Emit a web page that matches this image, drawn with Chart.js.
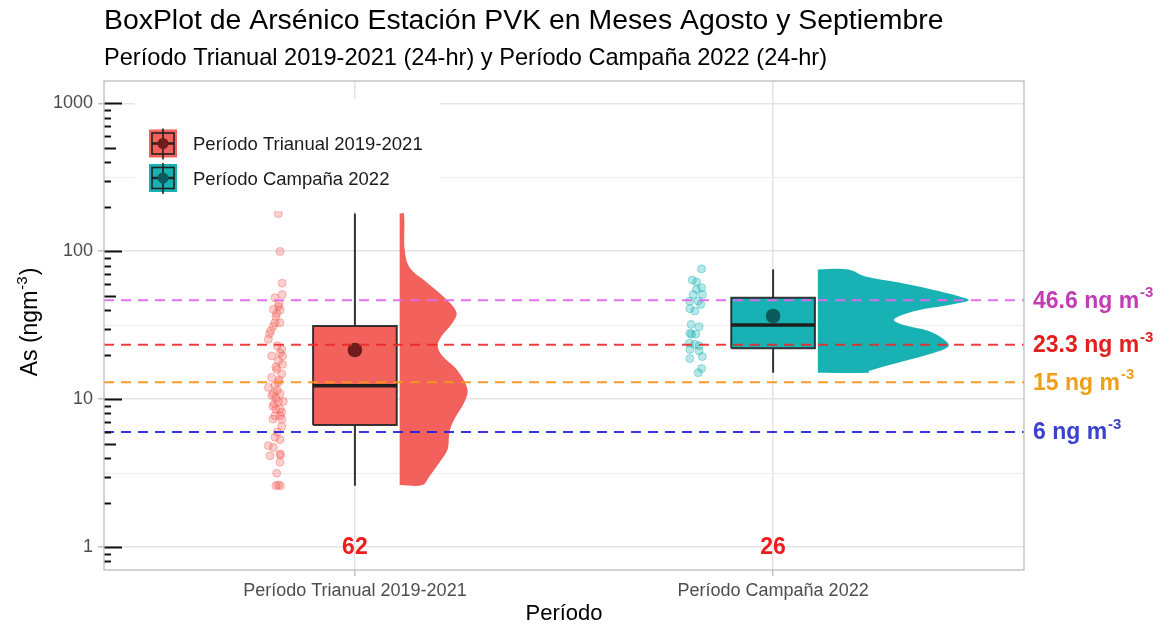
<!DOCTYPE html>
<html>
<head>
<meta charset="utf-8">
<script src="https://cdn.jsdelivr.net/npm/chart.js@4.4.1/dist/chart.umd.min.js"></script>
<style>
  body { margin: 0; background: #fff; }
  canvas { display: block; }
</style>
</head>
<body>
<canvas id="boxChart" width="1169" height="626"></canvas>
<script>
const FONT = "'Liberation Sans', Arial, sans-serif";

// categories and counts
const categories = ["Período Trianual 2019-2021", "Período Campaña 2022"];
const counts = [62, 26];
const countLevel = 1;

// box stats
const whiskerLow = [2.6, 15.1];
const q1 = [6.7, 22.1];
const median = [12.3, 31.7];
const q3 = [31.2, 48.5];
const whiskerHigh = [179.6, 75.3];
const means = [21.5, 36.5];

// raw points
const trianualValues = [179.6, 99.6, 60.8, 51, 48.5, 44, 42.2, 40.5, 40, 38, 36, 32.9, 32.9, 31.2, 29, 27.7,
  25.4, 23, 21.7, 20.5, 19.6, 19.6, 18.2, 17.2, 16.5, 15.9, 14.8, 14.0, 13.5, 13.0, 12.4, 12.0, 11.5, 10.9,
  10.6, 10.9, 10.2, 9.65, 9.65, 9.3, 8.97, 8.56, 8.56, 8.17, 7.72, 7.72, 7.33, 7.33, 6.54, 6.0, 5.52, 5.32,
  4.85, 4.72, 4.26, 4.14, 4.19, 3.74, 3.16, 2.6, 2.6, 2.63];
const trianualJitter = [-0.183, -0.179, -0.174, -0.174, -0.191, -0.181, -0.183, -0.195, -0.179, -0.187, -0.189,
  -0.191, -0.179, -0.195, -0.201, -0.204, -0.207, -0.186, -0.175, -0.179, -0.173, -0.199, -0.183, -0.173, -0.189,
  -0.187, -0.175, -0.199, -0.181, -0.183, -0.191, -0.207, -0.186, -0.195, -0.199, -0.179, -0.189, -0.183, -0.171,
  -0.193, -0.196, -0.189, -0.179, -0.175, -0.191, -0.179, -0.196, -0.175, -0.175, -0.186, -0.191, -0.179, -0.207,
  -0.195, -0.179, -0.203, -0.178, -0.179, -0.187, -0.189, -0.178, -0.183];
const campanaValues = [76, 63.8, 62, 56.7, 55.2, 51, 51, 46, 46, 43.7, 40.9, 39.4, 32, 30.9, 27.9, 27.5, 27.5,
  23.9, 23.5, 23.0, 21.7, 21.2, 18.8, 19.4, 16.1, 15.1];
const campanaJitter = [-0.171, -0.193, -0.183, -0.171, -0.183, -0.191, -0.169, -0.199, -0.179, -0.173, -0.199,
  -0.187, -0.196, -0.177, -0.199, -0.185, -0.195, -0.200, -0.187, -0.177, -0.199, -0.177, -0.199, -0.169, -0.171,
  -0.179];

// half violin outlines: value and half-width (x units)
const violinTrianualY = [179.6, 102.7, 77.6, 61.5, 47.2, 38.6, 33.0, 26.6, 22.8, 19.5, 15.9, 11.7, 9.55, 7.33,
  5.99, 4.60, 3.76, 3.03, 2.63];
const violinTrianualW = [0.010, 0.012, 0.024, 0.065, 0.112, 0.136, 0.127, 0.100, 0.091, 0.103, 0.136, 0.162,
  0.155, 0.131, 0.119, 0.115, 0.096, 0.072, 0.055];
const violinCampanaY = [75.3, 67.8, 61.5, 55.2, 49.7, 46.7, 43.7, 39.4, 34.6, 32.0, 28.9, 25.4, 22.9, 20.7,
  17.7, 15.5, 15.1];
const violinCampanaW = [0.073, 0.112, 0.194, 0.272, 0.337, 0.361, 0.320, 0.232, 0.182, 0.201, 0.265, 0.301,
  0.313, 0.280, 0.194, 0.122, 0.122];

// reference lines
const refValues = [46.6, 23.3, 13, 6];
const refLabels = ["46.6", "23.3", "15", "6"];

// y axis
const yTicks = [1, 10, 100, 1000];
const yMinorGrid = [3.162, 31.62, 316.2];
const logTickValues = [0.8, 0.9, 1, 2, 3, 4, 5, 6, 7, 8, 9, 10, 20, 30, 40, 50, 60, 70, 80, 90,
  100, 200, 300, 400, 500, 600, 700, 800, 900, 1000];

const fillColors = ["#F2615B", "#18B2B5"];
const pointFill = ["rgba(242,97,91,0.3)", "rgba(24,178,181,0.3)"];
const pointLine = ["rgba(242,97,91,0.4)", "rgba(24,178,181,0.4)"];
const meanColors = ["#6E1D1B", "#0B5A5C"];
const refLineColors = ["rgba(226,104,238,0.95)", "rgba(236,40,40,0.9)", "rgba(245,150,30,0.95)", "rgba(30,30,230,0.9)"];
const refLabelColors = ["#C23DB4", "#E3201B", "#EEA01A", "#3A40D0"];

const groups = [
  { values: trianualValues, jitter: trianualJitter, vy: violinTrianualY, vw: violinTrianualW },
  { values: campanaValues, jitter: campanaJitter, vy: violinCampanaY, vw: violinCampanaW },
];

const datasets = [];
refValues.forEach((v, i) => {
  datasets.push({
    data: [{ x: 0.4, y: v }, { x: 2.6, y: v }],
    borderColor: refLineColors[i], borderWidth: 2, borderDash: [10, 7],
    pointRadius: 0, order: 0,
  });
});
groups.forEach((g, i) => {
  const pos = i + 1;
  const hw = 0.1;   // box half width
  const vOff = 0.107; // violin start
  datasets.push({
    data: [{ x: pos, y: means[i] }], showLine: false,
    pointRadius: 7.3, pointBackgroundColor: meanColors[i], pointBorderWidth: 0, order: 1,
  });
  datasets.push({
    data: [{ x: pos - hw, y: median[i] }, { x: pos + hw, y: median[i] }],
    borderColor: "#1E1E1E", borderWidth: 3.5, borderCapStyle: "butt", pointRadius: 0, order: 2,
  });
  datasets.push({
    data: [{ x: pos - hw, y: q1[i] }, { x: pos + hw, y: q1[i] }, { x: pos + hw, y: q3[i] },
           { x: pos - hw, y: q3[i] }, { x: pos - hw, y: q1[i] }],
    fill: "shape", backgroundColor: fillColors[i], borderColor: "rgba(35,35,35,0.9)",
    borderWidth: 2, borderJoinStyle: "miter", pointRadius: 0, order: 3,
  });
  datasets.push({
    data: [{ x: pos, y: whiskerLow[i] }, { x: pos, y: whiskerHigh[i] }],
    borderColor: "#333", borderWidth: 2, pointRadius: 0, order: 4,
  });
  const outline = [{ x: pos + vOff, y: g.vy[0] }]
    .concat(g.vy.map((y, k) => ({ x: pos + vOff + g.vw[k], y: y })))
    .concat([{ x: pos + vOff, y: g.vy[g.vy.length - 1] }]);
  datasets.push({
    data: outline, fill: "shape", backgroundColor: fillColors[i], borderColor: "transparent",
    borderWidth: 0, tension: 0.35, pointRadius: 0, order: 5,
  });
  datasets.push({
    data: g.values.map((v, k) => ({ x: pos + g.jitter[k], y: v })), showLine: false,
    pointRadius: 4, pointBackgroundColor: pointFill[i], pointBorderColor: pointLine[i],
    pointBorderWidth: 1, order: 6,
  });
});

function supText(ctx, x, y, base, sup, size, supSize, bold, color) {
  ctx.fillStyle = color;
  ctx.textAlign = "left";
  ctx.textBaseline = "middle";
  ctx.font = (bold ? "bold " : "") + size + "px " + FONT;
  ctx.fillText(base, x, y);
  const w = ctx.measureText(base).width;
  ctx.font = (bold ? "bold " : "") + supSize + "px " + FONT;
  ctx.fillText(sup, x + w + 1, y - size * 0.36);
}

const extras = {
  id: "extras",
  afterDraw(chart) {
    const ctx = chart.ctx;
    const xs = chart.scales.x, ys = chart.scales.y;
    const area = chart.chartArea;
    ctx.save();

    // log ticks along left edge
    ctx.strokeStyle = "#111";
    ctx.lineWidth = 2;
    logTickValues.forEach(v => {
      const y = Math.round(ys.getPixelForValue(v)) + 0.5;
      const lead = String(v).replace("0.", "")[0];
      const len = yTicks.includes(v) ? 18 : (lead === "5" ? 12 : 7);
      ctx.beginPath();
      ctx.moveTo(area.left, y);
      ctx.lineTo(area.left + len, y);
      ctx.stroke();
    });

    // panel border
    ctx.strokeStyle = "#BDBDBD";
    ctx.lineWidth = 1.3;
    ctx.strokeRect(area.left, area.top, area.right - area.left, area.bottom - area.top);

    // counts
    ctx.fillStyle = "#EE1C1C";
    ctx.font = "bold 23px " + FONT;
    ctx.textAlign = "center";
    ctx.textBaseline = "middle";
    counts.forEach((n, i) => ctx.fillText(String(n), xs.getPixelForValue(i + 1), ys.getPixelForValue(countLevel) + 1));

    // reference labels
    refValues.forEach((v, i) => {
      supText(ctx, area.right + 9, ys.getPixelForValue(v) + 1, refLabels[i] + " ng m", "-3", 23, 15, true, refLabelColors[i]);
    });

    // titles
    ctx.fillStyle = "#000";
    ctx.textAlign = "left";
    ctx.textBaseline = "middle";
    ctx.font = "28.4px " + FONT;
    ctx.fillText("BoxPlot de Arsénico Estación PVK en Meses Agosto y Septiembre", area.left, 21);
    ctx.font = "23.6px " + FONT;
    ctx.fillText("Período Trianual 2019-2021 (24-hr) y Período Campaña 2022 (24-hr)", area.left, 58);

    // y axis title
    ctx.save();
    ctx.translate(31, 322);
    ctx.rotate(-Math.PI / 2);
    ctx.font = "23px " + FONT;
    const w1 = ctx.measureText("As (ngm").width;
    ctx.font = "15px " + FONT;
    const w2 = ctx.measureText("-3").width;
    ctx.font = "23px " + FONT;
    const w3 = ctx.measureText(")").width;
    const x0 = -(w1 + w2 + w3 + 2) / 2;
    supText(ctx, x0, 0, "As (ngm", "-3", 23, 15, false, "#000");
    ctx.font = "23px " + FONT;
    ctx.fillText(")", x0 + w1 + w2 + 2, 0);
    ctx.restore();

    // legend
    ctx.fillStyle = "#fff";
    ctx.fillRect(135, 99, 305, 112);
    categories.forEach((name, i) => {
      const cx = 163, cy = 143.5 + i * 34.5;
      ctx.fillStyle = fillColors[i];
      ctx.fillRect(149, cy - 14, 28, 28);
      ctx.strokeStyle = "#222";
      ctx.lineWidth = 1.6;
      ctx.beginPath();
      ctx.moveTo(cx, cy - 15); ctx.lineTo(cx, cy + 16);
      ctx.stroke();
      ctx.strokeRect(152, cy - 10.5, 22, 21);
      ctx.beginPath();
      ctx.moveTo(152, cy); ctx.lineTo(174, cy);
      ctx.lineWidth = 2.5;
      ctx.stroke();
      ctx.fillStyle = meanColors[i];
      ctx.beginPath();
      ctx.arc(cx, cy, 5.5, 0, Math.PI * 2);
      ctx.fill();
      ctx.fillStyle = "#1A1A1A";
      ctx.font = "18.5px " + FONT;
      ctx.textAlign = "left";
      ctx.textBaseline = "middle";
      ctx.fillText(name, 193, cy + 1.5);
    });
    ctx.restore();
  }
};

new Chart(document.getElementById("boxChart"), {
  type: "line",
  data: { datasets: datasets },
  options: {
    responsive: false,
    animation: false,
    events: [],
    layout: { padding: { top: 81, right: 145, left: 0, bottom: 0 } },
    plugins: {
      legend: { display: false },
      tooltip: { enabled: false },
    },
    scales: {
      x: {
        type: "linear",
        min: 0.4,
        max: 2.6,
        afterBuildTicks: s => { s.ticks = categories.map((c, i) => ({ value: i + 1 })); },
        afterFit: s => { s.height = 56; },
        ticks: {
          callback: v => categories[v - 1],
          color: "#4D4D4D",
          font: { size: 18, family: FONT },
          padding: 4,
          autoSkip: false,
          maxRotation: 0,
        },
        grid: { color: "#E4E4E4", lineWidth: 1.5, tickColor: "#B3B3B3", tickLength: 6, tickWidth: 1.2 },
        border: { display: false },
        title: { display: true, text: "Período", color: "#000", font: { size: 22, family: FONT }, padding: { top: 0, bottom: -1 } },
      },
      y: {
        type: "logarithmic",
        min: 0.714,
        max: 1415,
        afterBuildTicks: s => {
          s.ticks = yTicks.concat(yMinorGrid).sort((a, b) => a - b).map(v => ({ value: v }));
        },
        afterFit: s => { s.width = 104; },
        ticks: {
          callback: v => (yTicks.includes(v) ? String(v) : ""),
          color: "#4D4D4D",
          font: { size: 18, family: FONT },
          padding: 5,
          autoSkip: false,
        },
        grid: {
          color: c => (yTicks.includes(c.tick.value) ? "#E4E4E4" : "#EEEEEE"),
          lineWidth: c => (yTicks.includes(c.tick.value) ? 1.5 : 1),
          tickColor: c => (yTicks.includes(c.tick.value) ? "#B3B3B3" : "rgba(0,0,0,0)"),
          tickLength: 6,
          tickWidth: 1.2,
        },
        border: { display: false },
      },
    },
  },
  plugins: [extras],
});
</script>
</body>
</html>
